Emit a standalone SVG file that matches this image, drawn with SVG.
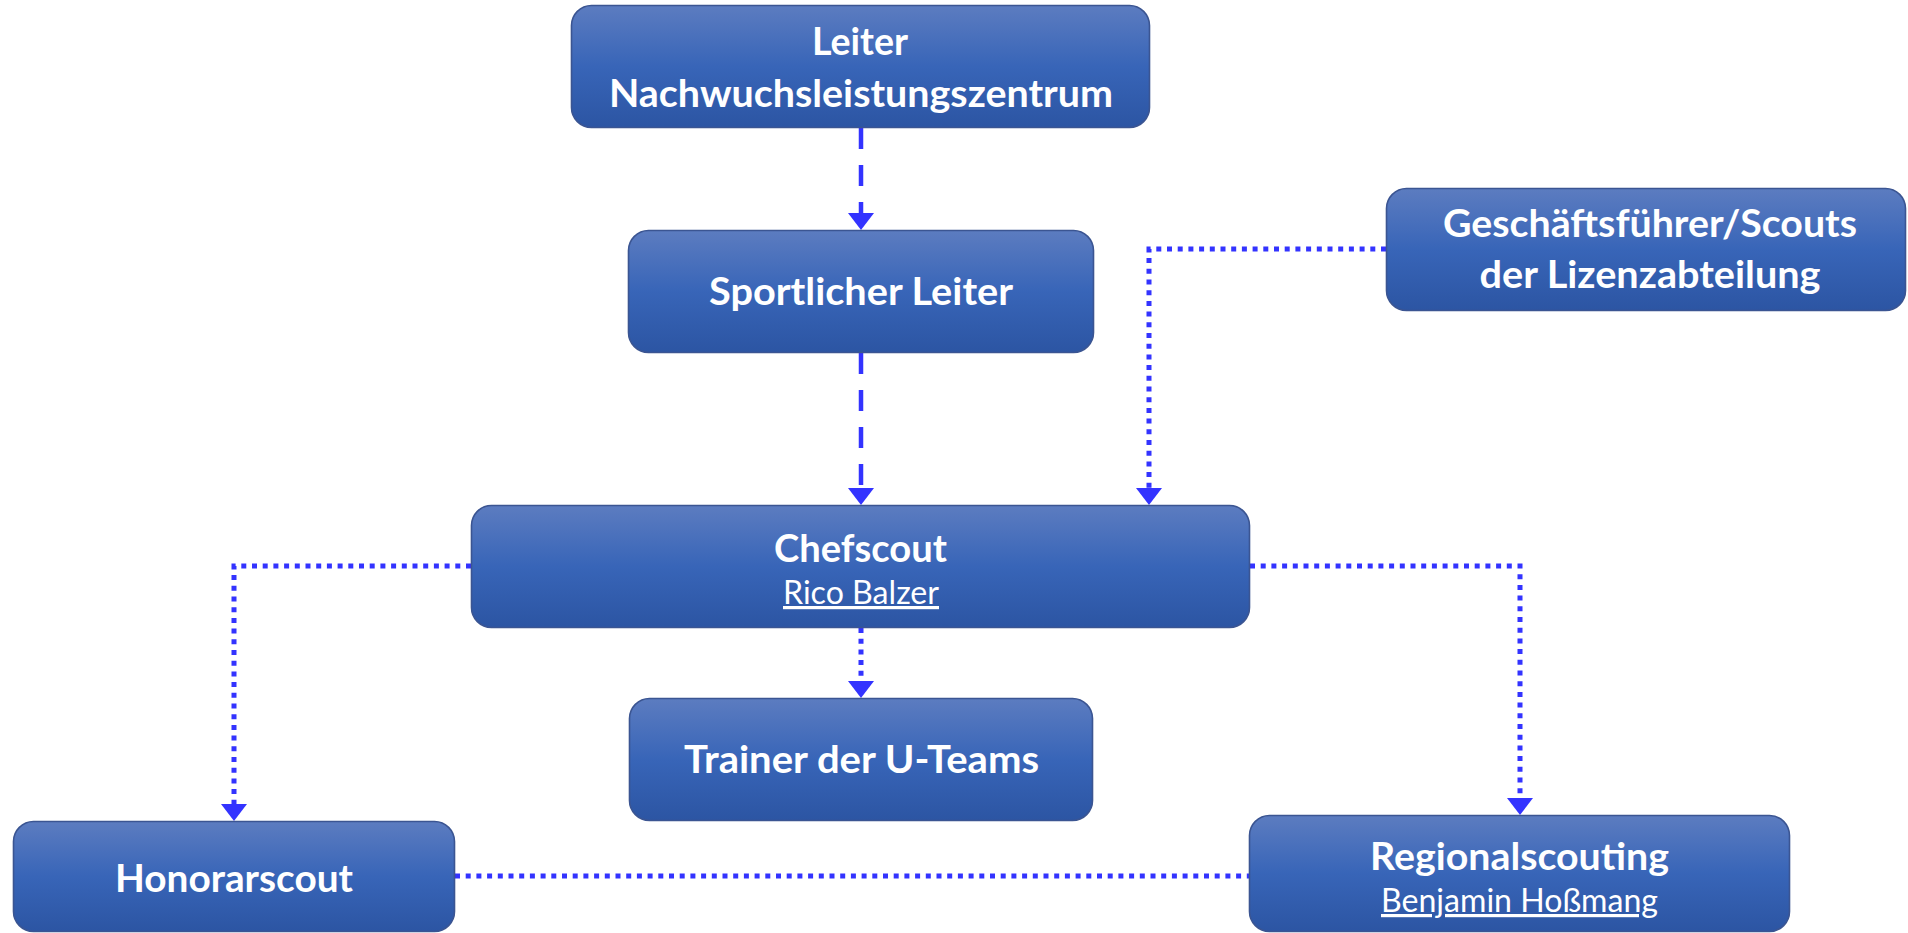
<svg xmlns="http://www.w3.org/2000/svg" width="1908" height="933" viewBox="0 0 1908 933">
<style>
.box{fill:url(#g);stroke:#3b5592;stroke-width:1.6}
.t{font-family:Lato,"Open Sans","Liberation Sans",sans-serif;font-weight:700;font-size:38px;fill:#ffffff;text-anchor:middle}
.s{font-family:Lato,"Open Sans","Liberation Sans",sans-serif;font-weight:400;font-size:32px;fill:#ffffff;text-anchor:middle;text-decoration:underline}
.dash{fill:none;stroke:#3333ff;stroke-width:4.5;stroke-dasharray:21 16}
.dot{fill:none;stroke:#3333ff;stroke-width:5;stroke-dasharray:5 5.7}
</style>
<defs>
<linearGradient id="g" x1="0" y1="0" x2="0" y2="1">
<stop offset="0" stop-color="#5c7cc0"/>
<stop offset="0.5" stop-color="#3865b8"/>
<stop offset="1" stop-color="#2c55a3"/>
</linearGradient>
<marker id="ah" markerUnits="userSpaceOnUse" markerWidth="17" markerHeight="26" refX="4" refY="13" orient="auto" viewBox="0 0 17 26">
<path d="M0,0 L17,13 L0,26 z" fill="#3333ff"/>
</marker>
</defs>
<rect width="1908" height="933" fill="#ffffff"/>
<g id="connectors">
<path class="dash" d="M861,128 V217" marker-end="url(#ah)"/>
<path class="dash" d="M861,353 V492" marker-end="url(#ah)"/>
<path class="dot" d="M1386,249 H1149 V492" marker-end="url(#ah)"/>
<path class="dot" d="M861,628 V685" marker-end="url(#ah)"/>
<path class="dot" d="M471,566 H234 V808" marker-end="url(#ah)"/>
<path class="dot" d="M1250,566 H1520 V802" marker-end="url(#ah)"/>
<path class="dot" d="M455,876 H1249"/>
</g>
<g id="leiter-nlz">
<rect class="box" x="571.5" y="5.5" width="578" height="122" rx="20"/>
<text class="t" x="860" y="55" textLength="96" lengthAdjust="spacingAndGlyphs">Leiter</text>
<text class="t" x="861" y="107" textLength="504" lengthAdjust="spacingAndGlyphs">Nachwuchsleistungszentrum</text>
</g>
<g id="sportlicher-leiter">
<rect class="box" x="628.5" y="230.5" width="465" height="122" rx="20"/>
<text class="t" x="861" y="305" textLength="304" lengthAdjust="spacingAndGlyphs">Sportlicher Leiter</text>
</g>
<g id="geschaeftsfuehrer">
<rect class="box" x="1386.5" y="188.5" width="519" height="122" rx="20"/>
<text class="t" x="1650" y="237" textLength="414" lengthAdjust="spacingAndGlyphs">Geschäftsführer/Scouts</text>
<text class="t" x="1650" y="288" textLength="341" lengthAdjust="spacingAndGlyphs">der Lizenzabteilung</text>
</g>
<g id="chefscout">
<rect class="box" x="471.5" y="505.5" width="778" height="122" rx="20"/>
<text class="t" x="860.5" y="562" textLength="173" lengthAdjust="spacingAndGlyphs">Chefscout</text>
<text class="s" x="861" y="604" textLength="156" lengthAdjust="spacingAndGlyphs">Rico Balzer</text>
</g>
<g id="trainer">
<rect class="box" x="629.5" y="698.5" width="463" height="122" rx="20"/>
<text class="t" x="861.5" y="773" textLength="355" lengthAdjust="spacingAndGlyphs">Trainer der U-Teams</text>
</g>
<g id="honorarscout">
<rect class="box" x="13.5" y="821.5" width="441" height="110" rx="20"/>
<text class="t" x="234" y="892" textLength="238" lengthAdjust="spacingAndGlyphs">Honorarscout</text>
</g>
<g id="regionalscouting">
<rect class="box" x="1249.5" y="815.5" width="540" height="116" rx="20"/>
<text class="t" x="1519.5" y="870" textLength="299" lengthAdjust="spacingAndGlyphs">Regionalscouting</text>
<text class="s" x="1519.5" y="912" textLength="277" lengthAdjust="spacingAndGlyphs">Benjamin Hoßmang</text>
</g>
</svg>
